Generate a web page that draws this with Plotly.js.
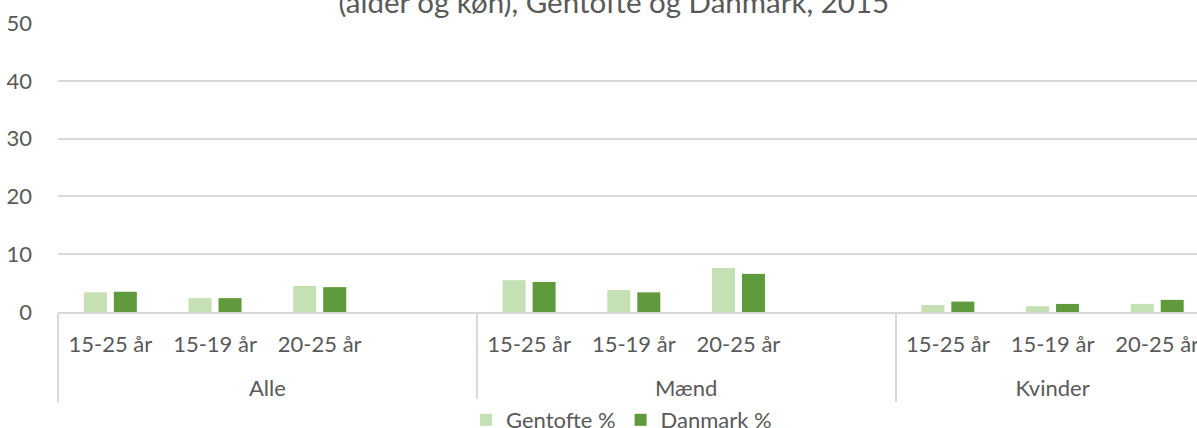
<!DOCTYPE html>
<html>
<head>
<meta charset="utf-8">
<script src="https://cdn.plot.ly/plotly-3.0.1.min.js"></script>
<style>html,body{margin:0;padding:0;background:#fff;}#chart{width:1197px;height:428px;}</style>
</head>
<body>
<div id="chart"></div>
<script>
const groups = ["Alle","Alle","Alle","Alle","Mænd","Mænd","Mænd","Mænd","Kvinder","Kvinder","Kvinder"];
const ageGroups = ["15-25 år","15-19 år","20-25 år"," ","15-25 år","15-19 år","20-25 år"," ","15-25 år","15-19 år","20-25 år"];
const gentofte = [3.4, 2.4, 4.5, null, 5.5, 3.8, 7.6, null, 1.2, 1.0, 1.4];
const danmark  = [3.5, 2.4, 4.3, null, 5.2, 3.4, 6.6, null, 1.8, 1.4, 2.1];
const seriesNames = ["Gentofte %", "Danmark %"];
const titleText = "(alder og køn), Gentofte og Danmark, 2015";
const yTicks = [0, 10, 20, 30, 40, 50];

const FONT = "Lato, 'Open Sans', sans-serif";
const TXT = "#595959";

// extra (blank) line under each age label pushes the group labels further down
const ageLabels = ageGroups.map(a => a + "<br><span style='font-size:12px'> </span>");

const traces = [
  {type: "bar", name: seriesNames[0], x: [groups, ageLabels], y: gentofte,
   marker: {color: "#c5e0b3"}, hoverinfo: "skip"},
  {type: "bar", name: seriesNames[1], x: [groups, ageLabels], y: danmark,
   marker: {color: "#5f9a3c"}, hoverinfo: "skip"}
];

const layout = {
  width: 1197, height: 428,
  margin: {l: 58, r: 0, t: 23, b: 116},
  paper_bgcolor: "#fff", plot_bgcolor: "#fff",
  font: {family: FONT, size: 22, color: TXT},
  title: {text: titleText, font: {family: FONT, size: 29.5, color: TXT},
          x: 0.488, xanchor: "center", xref: "paper", y: 1 - 13/428, yref: "container", yanchor: "bottom"},
  barmode: "group", bargap: 0.427, bargroupgap: 0.233,
  showlegend: true,
  legend: {orientation: "h", x: 0.4947, xanchor: "center", xref: "paper", y: 8/428, yref: "container", yanchor: "middle",
           font: {family: FONT, size: 22, color: TXT}, traceorder: "normal", itemwidth: 30},
  xaxis: {type: "multicategory", range: [-0.5, 10.38], showgrid: false, zeroline: false,
          showline: true, linecolor: "#d9d9d9", linewidth: 2,
          showdividers: true, dividercolor: "#d9d9d9", dividerwidth: 2,
          ticklabelstandoff: 12,
          tickfont: {family: FONT, size: 22, color: TXT}, ticks: ""},
  yaxis: {range: [0, 50], tickvals: yTicks, showgrid: true, gridcolor: "#d9d9d9", gridwidth: 2,
          zeroline: false, showline: false, ticks: "", ticklabelstandoff: 25,
          tickfont: {family: FONT, size: 22, color: TXT}}
};

Plotly.newPlot("chart", traces, layout, {displayModeBar: false, staticPlot: true});
</script>
</body>
</html>
